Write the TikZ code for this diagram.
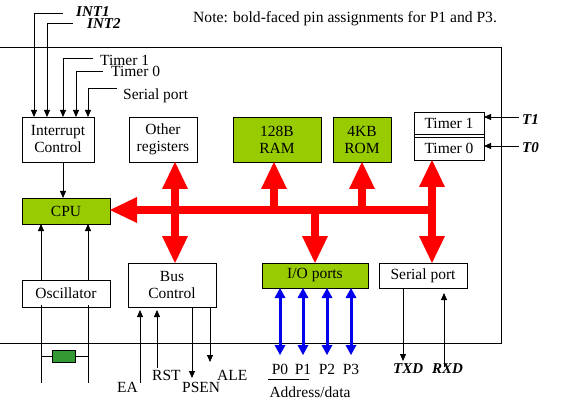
\documentclass[tikz,border=0pt]{standalone}
\usepackage{fontspec}
\setmainfont{Liberation Serif}
\usetikzlibrary{arrows.meta}
\definecolor{chipgreen}{RGB}{153,204,0}
\definecolor{xtalgreen}{RGB}{51,153,51}
\definecolor{busred}{RGB}{255,0,0}
\definecolor{portblue}{RGB}{0,0,235}
\begin{document}
\begin{tikzpicture}[x=1pt,y=-1pt,
  txt/.style={font=\fontsize{15.5}{17}\selectfont},
  box/.style={draw, line width=0.8pt, inner sep=0pt, outer sep=0pt, align=center, txt},
  gbox/.style={box, fill=chipgreen},
  lbl/.style={inner sep=0pt, txt},
  pin/.style={inner sep=0pt, font=\fontsize{15}{17}\selectfont\bfseries\itshape},
  sig/.style={line width=0.8pt, -{Triangle[length=7pt,width=6pt]}},
  wire/.style={line width=0.8pt},
  rarr/.style={draw=busred, line width=8pt, -{Triangle[length=27pt,width=26pt,line width=0pt]}},
  rdbl/.style={draw=busred, line width=8pt, {Triangle[length=27pt,width=26pt,line width=0pt]}-{Triangle[length=27pt,width=26pt,line width=0pt]}},
  bdbl/.style={draw=portblue, line width=3pt, {Triangle[length=10pt,width=11pt,line width=0pt]}-{Triangle[length=10pt,width=11pt,line width=0pt]}}
]
\useasboundingbox (0,0) rectangle (562,406);

% chip outline
\coordinate (c1) at (0,47);
\coordinate (c2) at (501,47);
\coordinate (c3) at (501,343);
\coordinate (c4) at (0,343);
\draw[wire] (c1) -- (c2) -- (c3) -- (c4);

% boxes
\node[box, minimum width=72pt, minimum height=45pt] (intc) at (58,139.5) {Interrupt\\Control};
\node[box, minimum width=68pt, minimum height=45pt] (other) at (163,139.5) {Other\\registers};
\node[gbox, minimum width=88pt, minimum height=45pt] (ram) at (277,139.5) {128B\\RAM};
\node[gbox, minimum width=58pt, minimum height=45pt] (rom) at (362,139.5) {4KB\\ROM};
\node[box, minimum width=70pt, minimum height=22pt] (timer1) at (449,123) {Timer 1};
\node[box, minimum width=70pt, minimum height=23pt] (timer0) at (449,148.5) {Timer 0};
\draw[wire] (timer1.north west) -- (timer0.south west);
\draw[wire] (timer1.north east) -- (timer0.south east);
\node[gbox, minimum width=88pt, minimum height=26pt] (cpu) at (66,211) {CPU};
\node[box, minimum width=88pt, minimum height=27pt] (osc) at (66,293.5) {Oscillator};
\node[box, minimum width=88pt, minimum height=44pt] (busc) at (172,285) {Bus\\Control};
\node[gbox, minimum width=106pt, minimum height=25pt] (io) at (315,275.5) {I/O ports};
\node[box, minimum width=88pt, minimum height=25pt] (serial) at (423,275.5) {Serial port};

% note
\node[inner sep=0pt, anchor=base west, font=\fontsize{15.6}{17}\selectfont] (note) at (193,23) {Note: bold-faced pin assignments for P1 and P3.};

% interrupt inputs
\node[pin, anchor=base west] (int1) at (76,17) {INT1};
\node[pin, anchor=base west] (int2) at (87,29) {INT2};
\node[lbl, anchor=base west] (lt1) at (100,66) {Timer 1};
\node[lbl, anchor=base west] (lt0) at (111,77) {Timer 0};
\node[lbl, anchor=base west] (lsp) at (123,100) {Serial port};
\coordinate (i1s) at (63,13);  \coordinate (i1x) at (34,0);
\coordinate (i2s) at (73,23);  \coordinate (i2x) at (47,0);
\coordinate (t1s) at (93,58);  \coordinate (t1x) at (63,0);
\coordinate (t0s) at (103,71); \coordinate (t0x) at (76,0);
\coordinate (sps) at (117,88); \coordinate (spx) at (88,0);
\draw[sig] (i1s) -| (intc.north -| i1x);
\draw[sig] (i2s) -| (intc.north -| i2x);
\draw[sig] (t1s) -| (intc.north -| t1x);
\draw[sig] (t0s) -| (intc.north -| t0x);
\draw[sig] (sps) -| (intc.north -| spx);

% interrupt -> cpu
\coordinate (icx) at (63,0);
\draw[sig] (intc.south -| icx) -- (cpu.north -| icx);

% oscillator
\coordinate (ob1) at (41,383);
\coordinate (ob2) at (88,383);
\draw[sig] (osc.north -| ob1) -- (cpu.south -| ob1);
\draw[sig] (osc.north -| ob2) -- (cpu.south -| ob2);
\draw[wire] ([yshift=2pt]osc.south -| ob1) -- (ob1);
\draw[wire] ([yshift=2pt]osc.south -| ob2) -- (ob2);
\coordinate (xl) at (41,356);
\coordinate (xr) at (88,356);
\draw[wire] (xl) -- (xr);
\node[draw, line width=0.8pt, fill=xtalgreen, inner sep=0pt, minimum width=23pt, minimum height=12pt] (xtal) at (63.5,356) {};

% bus control pins
\coordinate (ea) at (140,383);
\coordinate (rst) at (157,368);
\coordinate (psen) at (192,378);
\coordinate (ale) at (210,362);
\draw[sig, shorten >=3pt] (ea) -- (busc.south -| ea);
\draw[sig, shorten >=3pt] (rst) -- (busc.south -| rst);
\draw[sig] (busc.south -| psen) -- (psen);
\draw[sig] (busc.south -| ale) -- (ale);
\node[lbl, anchor=base west] (lea) at (117,392) {EA};
\node[lbl, anchor=base west] (lrst) at (152,380) {RST};
\node[lbl, anchor=base west] (lpsen) at (182,392) {PSEN};
\node[lbl, anchor=base west] (lale) at (217,380) {ALE};

% serial pins
\coordinate (txd) at (403,361);
\coordinate (rxd) at (444,367);
\draw[sig] (serial.south -| txd) -- (txd);
\draw[sig, shorten >=5pt] (rxd) -- (serial.south -| rxd);
\node[pin, anchor=base west] (ltxd) at (393,373) {TXD};
\node[pin, anchor=base west] (lrxd) at (432,373) {RXD};

% timer inputs
\coordinate (t1in) at (519,117);
\coordinate (t0in) at (519,146);
\draw[sig] (t1in) -- (t1in -| timer1.east);
\draw[sig] (t0in) -- (t0in -| timer0.east);
\node[pin, anchor=base west] (lT1) at (522,125) {T1};
\node[pin, anchor=base west] (lT0) at (522,153) {T0};

% red internal bus
\coordinate (busR) at (436,210);
\draw[rarr] (busR) -- (cpu.east |- busR);
\coordinate (bx1) at (175,0);
\coordinate (bx2) at (274,210);
\coordinate (bx3) at (362,210);
\coordinate (bx4) at (315,210);
\coordinate (bx5) at (432,0);
\draw[rdbl] (other.south -| bx1) -- (busc.north -| bx1);
\draw[rarr] (bx2) -- (ram.south -| bx2);
\draw[rarr] (bx3) -- (rom.south -| bx3);
\draw[rarr] (bx4) -- (io.north -| bx4);
\draw[rdbl] (timer0.south -| bx5) -- (serial.north -| bx5);

% ports
\foreach \x/\n in {280/0,303/1,327/2,351/3} {
  \coordinate (pe\n) at (\x,355);
  \draw[bdbl] (io.south -| pe\n) -- (pe\n);
  \node[lbl, anchor=base] (pl\n) at (\x,374) {P\n};
}
\coordinate (ul1) at (268,379);
\coordinate (ul2) at (309,379);
\draw[wire] (ul1) -- (ul2);
\node[lbl, anchor=base] (addr) at (310,397) {Address/data};
\end{tikzpicture}
\end{document}
